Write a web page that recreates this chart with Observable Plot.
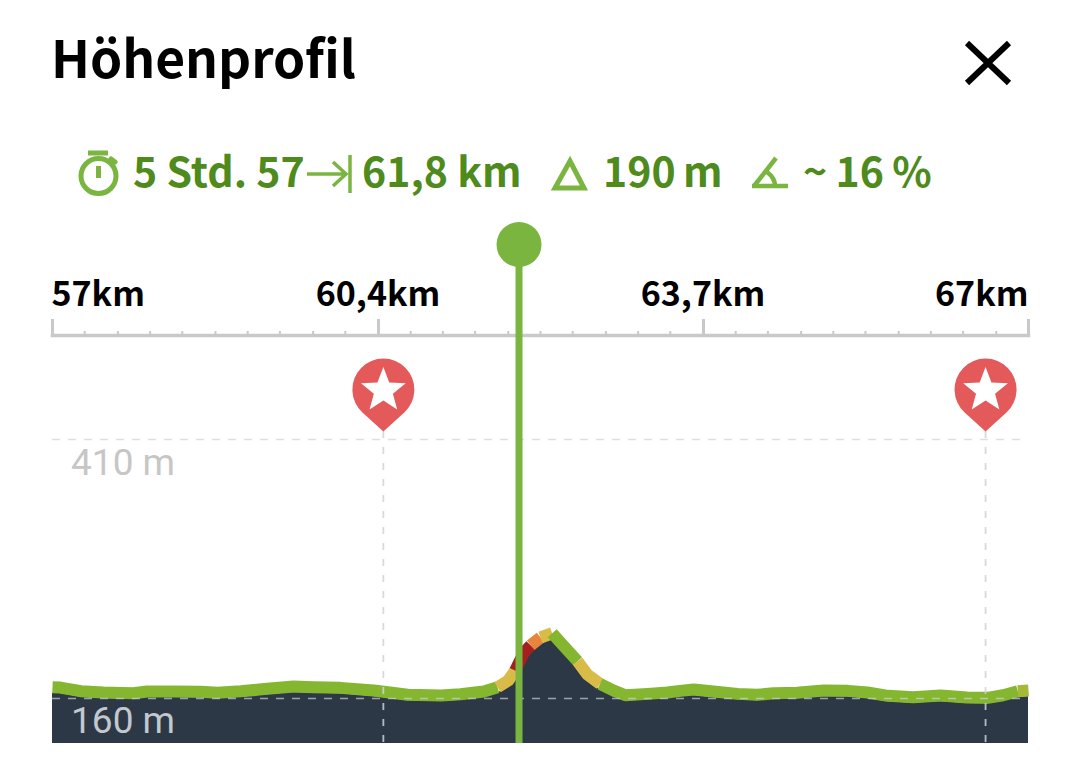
<!DOCTYPE html>
<html lang="de"><head><meta charset="utf-8">
<script src="https://cdn.jsdelivr.net/npm/d3@7"></script>
<script src="https://cdn.jsdelivr.net/npm/@observablehq/plot@0.6"></script>
<style>
html,body{margin:0;padding:0;background:#fff;width:1080px;height:766px;overflow:hidden}
body{position:relative;font-family:"Noto Sans CJK SC","Noto Sans",sans-serif}
.t{position:absolute;white-space:nowrap;font-weight:700;line-height:1}
.s{color:#4f8a1c;font-size:41px;top:149px}
svg.i{position:absolute;overflow:visible}
#chart{position:absolute;left:0;top:225px}
</style></head><body>
<div class="t" style="left:51px;top:30px;font-size:51.500px;color:#000">Höhenprofil</div>
<svg class="i" style="left:0;top:0" width="1080" height="225" fill="none" stroke="#7ab540" stroke-width="5">
  <path d="M967 43L1009 83M1009 43L967 83" stroke="#000" stroke-width="6"/>
  <circle cx="98.500" cy="176" r="17.500"/><path d="M88 153H108" stroke-width="5"/><path d="M98.500 166V178"/><path d="M111 159l4 3" stroke-linecap="round"/>
  <path d="M307 174H346M333 162L346 174L333 186" stroke-width="3.500"/><path d="M350 155V193" stroke-width="3.500"/>
  <path d="M570 161L584 188H555Z" stroke-width="5"/>
  <path d="M752 186H788M754 186L776 158M767 172Q775 178 775 186" stroke-width="4.500"/>
</svg>
<div class="t s" style="left:133px">5 Std. 57</div>
<div class="t s" style="left:362px">61,8 km</div>
<div class="t s" style="left:603px;word-spacing:-2px">190 m</div>
<div class="t s" style="left:803px;word-spacing:-1px">~ 16 %</div>
<div id="chart"></div>
<script>
const km = [57.00,57.08,57.29,57.52,57.83,57.97,58.24,58.52,58.69,58.93,59.20,59.47,59.67,59.95,60.29,60.64,60.98,61.18,61.42,61.56,61.67,61.74,61.83,61.90,62.00,62.12,62.24,62.38,62.48,62.61,62.75,62.87,63.10,63.30,63.43,63.57,63.77,64.02,64.22,64.39,64.63,64.90,65.15,65.35,65.56,65.82,66.10,66.37,66.58,66.74,66.89,67.00];
const elevation = [170.9,170.6,167.1,165.8,165.1,166.8,166.8,166.5,165.5,167.0,169.4,171.6,170.9,170.3,167.7,163.6,162.9,164.2,166.8,170.9,177.4,187.0,204.4,211.4,218.9,223.0,210.5,196.0,183.2,174.2,167.7,163.2,164.5,165.8,167.4,168.7,166.8,164.5,163.6,165.1,165.5,167.7,167.4,165.8,162.6,161.3,162.9,161.0,160.7,163.2,167.0,167.7];
const slope = ["g","g","g","g","g","g","g","g","g","g","g","g","g","g","g","g","g","g","g","y","y","r","r","o","y","g","g","y","y","g","g","g","g","g","g","g","g","g","g","g","g","g","g","g","g","g","g","g","g","g","l","l"];
const slopeDomain = ["g","l","y","o","r"];
const slopeColors = ["#84b62f","#a5b83a","#d9bb48","#e8843c","#a3201f"];
const majorTicks = [57,60.34,63.67,67];
const minorTicks = [57.33,57.67,58,58.33,58.67,59,59.33,59.67,60,60.67,61,61.33,61.67,62,62.33,62.67,63,63.33,64,64.33,64.67,65,65.33,65.67,66,66.33,66.67];
const kmLabels = ["57km","60,4km","63,7km","67km"];
const gridElevations = [410,160];
const elevationLabels = ["410 m","160 m"];
const waypoints = [60.39,66.56];
const cursorKm = 61.78;
const yBottom = 116.6, yTop = 510.4, areaBase = 122.4;
const pinTip = 417.7, knobElev = 598.2;

const points = km.map((k,i)=>({k,e:elevation[i],s:slope[i]}));
const pinSymbol = {draw(c){
  c.moveTo(0,0);
  c.lineTo(-20.9,-19.1);
  c.arc(0,-42,31,Math.PI*0.736,Math.PI*0.264);
  c.closePath();
}};
const starSymbol = {draw(c){
  for(let i=0;i<10;i++){
    const r=i%2?10:23.5, a=-Math.PI/2+i*Math.PI/5, X=r*Math.cos(a), Y=-41+r*Math.sin(a);
    i?c.lineTo(X,Y):c.moveTo(X,Y);
  }
  c.closePath();
}};
const gray="#c9c9c9";
const labelStyle = {frameAnchor:"top",dy:-54,fontSize:34,fontWeight:700,fill:"#000",fontFamily:"Noto Sans CJK SC"};
const chart = Plot.plot({
  width:1080,height:541,marginLeft:52,marginRight:52,marginTop:110,marginBottom:23,
  style:{background:"transparent",overflow:"visible"},
  x:{domain:[57,67],axis:null},
  y:{domain:[yBottom,yTop],axis:null},
  color:{domain:slopeDomain,range:slopeColors},
  marks:[
    Plot.areaY(points,{x:"k",y1:areaBase,y2:"e",fill:"#2d3846",dy:6}),
    Plot.line(points,{x:"k",y:"e",stroke:"s",z:null,strokeWidth:12,strokeLinejoin:"round",strokeLinecap:"butt"}),
    Plot.ruleY(gridElevations,{stroke:"#cfd2d6",strokeWidth:1.6,strokeDasharray:"8,8",strokeOpacity:.7}),
    Plot.ruleX(waypoints,{y1:pinTip,y2:yBottom,stroke:"#cfd2d6",strokeWidth:1.8,strokeDasharray:"7,9",strokeOpacity:.85}),
    Plot.frame({anchor:"top",stroke:gray,strokeWidth:3.5}),
    Plot.axisX({anchor:"top",ticks:minorTicks,tickSize:5,tickFormat:null,stroke:gray,strokeWidth:2,label:null,text:null}),
    Plot.axisX({anchor:"top",ticks:majorTicks,tickSize:17,tickFormat:null,stroke:gray,strokeWidth:3,label:null,text:null}),
    Plot.text([0],{x:()=>majorTicks[0],text:()=>kmLabels[0],dx:-1,textAnchor:"start",...labelStyle}),
    Plot.text([1,2],{x:i=>majorTicks[i],text:i=>kmLabels[i],dx:-0.500,textAnchor:"middle",...labelStyle}),
    Plot.text([3],{x:()=>majorTicks[3],text:()=>kmLabels[3],textAnchor:"end",...labelStyle}),
    Plot.text([0],{x:()=>57.19,y:()=>gridElevations[0],text:()=>elevationLabels[0],dy:24,textAnchor:"start",fontSize:37,fill:"#c6c6c6",fontFamily:"Roboto"}),
    Plot.text([1],{x:()=>57.19,y:()=>gridElevations[1],text:()=>elevationLabels[1],dy:23,textAnchor:"start",fontSize:37,fill:"#c3c8ce",fontFamily:"Roboto"}),
    Plot.dot(waypoints,{x:d=>d,y:()=>pinTip,symbol:pinSymbol,fill:"#e4595a",stroke:null}),
    Plot.dot(waypoints,{x:d=>d,y:()=>pinTip,symbol:starSymbol,fill:"#fff",stroke:null}),
    Plot.ruleX([cursorKm],{y1:knobElev,y2:yBottom,stroke:"#7ab540",strokeWidth:7}),
    Plot.dot([cursorKm],{x:d=>d,y:()=>knobElev,r:22.5,fill:"#7ab540",stroke:null})
  ]
});
document.getElementById("chart").appendChild(chart);
</script>
</body></html>
